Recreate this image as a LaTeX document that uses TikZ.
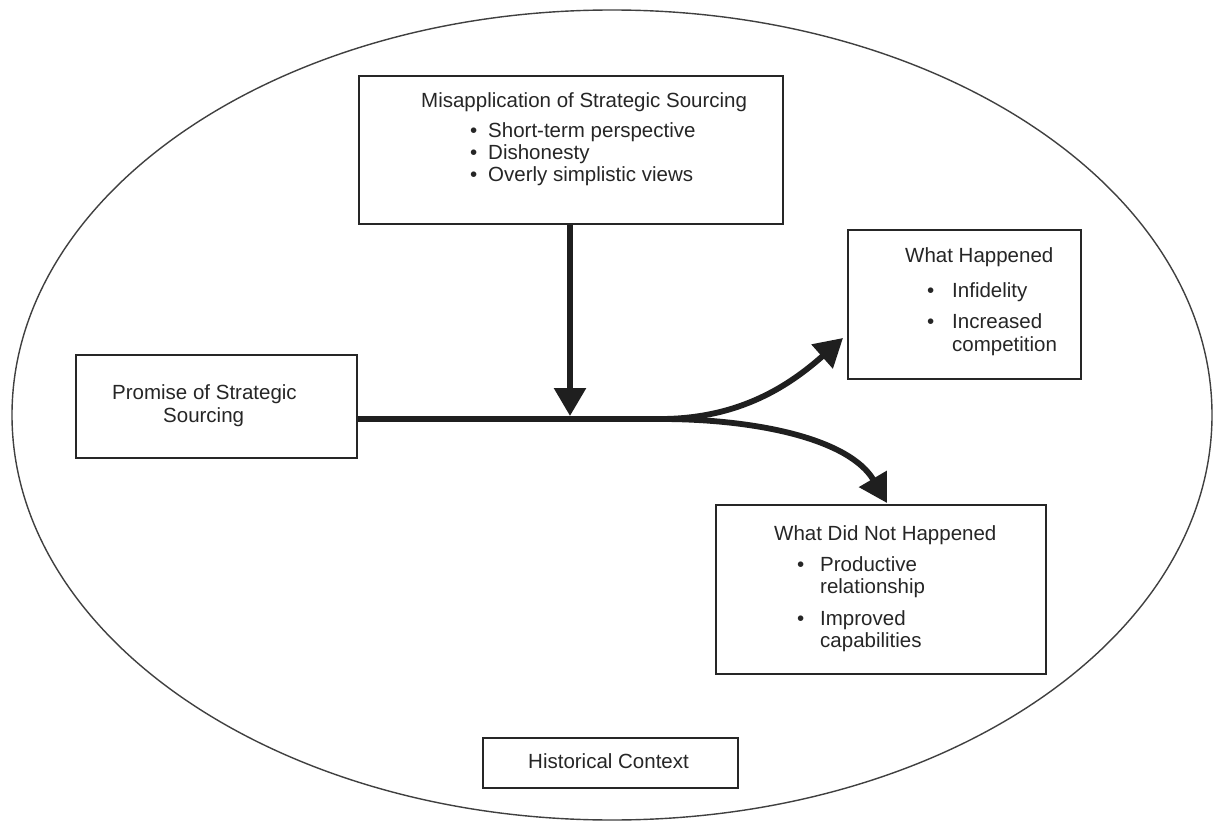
\documentclass[tikz,border=0pt]{standalone}
\usepackage{fontspec}
\setmainfont{Liberation Sans}
\usetikzlibrary{arrows.meta}
\begin{document}
\begin{tikzpicture}[x=1pt,y=-1pt,
  box/.style={draw=black!85, line width=1.6pt, inner sep=0pt, anchor=north west},
  txt/.style={anchor=base west, inner sep=0pt, font=\fontsize{20.5}{24}\selectfont, text=black!85},
  flow/.style={line width=5.8pt, draw=black!88},
  tip/.style={-{Triangle[width=31pt,length=28pt]}}]
\useasboundingbox (0,0) rectangle (1213,821);
\fill[white] (0,0) rectangle (1213,821);
% surrounding context
\draw[line width=1.4pt, black!75] (612,415) ellipse [x radius=600, y radius=405];

% boxes
\node[box, minimum width=424pt, minimum height=148pt] (mis) at (358,75) {};
\node[box, minimum width=281pt, minimum height=103pt] (prom) at (75,354) {};
\node[box, minimum width=233pt, minimum height=149pt] (hap) at (847,229) {};
\node[box, minimum width=330pt, minimum height=169pt] (nothap) at (715,504) {};
\node[box, minimum width=255pt, minimum height=50pt] (hist) at (482,737) {};

% texts
\node[txt] (misT) at (421,108) {Misapplication of Strategic Sourcing};
\node[txt] (misB1) at (470,138) {\textbullet};
\node[txt] (misL1) at (488,138) {Short-term perspective};
\node[txt] (misB2) at (470,160) {\textbullet};
\node[txt] (misL2) at (488,160) {Dishonesty};
\node[txt] (misB3) at (470,182) {\textbullet};
\node[txt] (misL3) at (488,182) {Overly simplistic views};

\node[txt] (promT1) at (112,399) {Promise of Strategic};
\node[txt] (promT2) at (163,422) {Sourcing};

\node[txt] (hapT) at (905,262) {What Happened};
\node[txt] (hapB1) at (927,297) {\textbullet};
\node[txt] (hapL1) at (952,297) {Infidelity};
\node[txt] (hapB2) at (927,328) {\textbullet};
\node[txt] (hapL2) at (952,328) {Increased};
\node[txt] (hapL2b) at (952,351) {competition};

\node[txt] (nothapT) at (774,540) {What Did Not Happened};
\node[txt] (nothapB1) at (797,571) {\textbullet};
\node[txt] (nothapL1) at (820,571) {Productive};
\node[txt] (nothapL1b) at (820,593) {relationship};
\node[txt] (nothapB2) at (797,625) {\textbullet};
\node[txt] (nothapL2) at (820,625) {Improved};
\node[txt] (nothapL2b) at (820,647) {capabilities};

\node[txt] (histT) at (528,768) {Historical Context};

% flow
\coordinate (split) at (660,419);
\coordinate (hit) at (570,416);
\coordinate (tipA) at (843,338);
\coordinate (tipB) at (887,503);
\draw[flow] (prom.east |- split) -- (split);
\draw[flow,tip] (mis.south -| hit) -- (hit);
\draw[flow,tip] (split) .. controls (740,419) and (790,385) .. (tipA);
\draw[flow,tip] (split) .. controls (760,419) and (850,440) .. (tipB);
\end{tikzpicture}
\end{document}
